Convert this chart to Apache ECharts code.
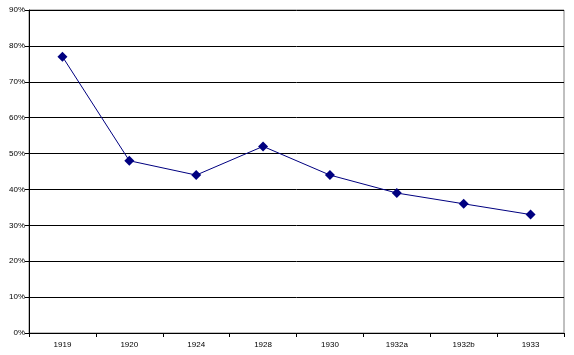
<!DOCTYPE html>
<html><head><meta charset="utf-8">
<script src="https://cdn.jsdelivr.net/npm/echarts@6/dist/echarts.min.js"></script>
<style>html,body{margin:0;padding:0;background:#fff}#c{width:574px;height:355px}</style>
</head><body><div id="c"></div>
<script>
const categories = ['1919','1920','1924','1928','1930','1932a','1932b','1933'];
const values = [77, 48, 44, 52, 44, 39, 36, 33];
const yTicks = [0,10,20,30,40,50,60,70,80,90];

const chart = echarts.init(document.getElementById('c'));
chart.setOption({
  animation: false,
  backgroundColor: '#fff',
  grid: {left: 29, right: 10, top: 10, bottom: 22, show: true, borderColor: '#808080', borderWidth: 1},
  xAxis: {
    type: 'category', data: categories, boundaryGap: true,
    axisLine: {lineStyle: {color: '#000', width: 1}},
    axisTick: {show: true, length: 4, lineStyle: {color: '#000'}},
    axisLabel: {color: '#000', fontFamily: 'Liberation Sans, Arial', fontSize: 8, margin: 8}
  },
  yAxis: {
    type: 'value', min: 0, max: 90, interval: 10,
    axisLine: {show: true, lineStyle: {color: '#000'}},
    axisTick: {show: true, length: 4, lineStyle: {color: '#000'}},
    axisLabel: {color: '#000', fontFamily: 'Liberation Sans, Arial', fontSize: 8, margin: 4, formatter: v => v + '%'},
    splitLine: {show: true, lineStyle: {color: '#000', width: 1}}
  },
  series: [{
    type: 'line', data: values,
    symbol: 'diamond', symbolSize: 10,
    itemStyle: {color: '#000080'},
    lineStyle: {color: '#000080', width: 1}
  }]
});
</script></body></html>
